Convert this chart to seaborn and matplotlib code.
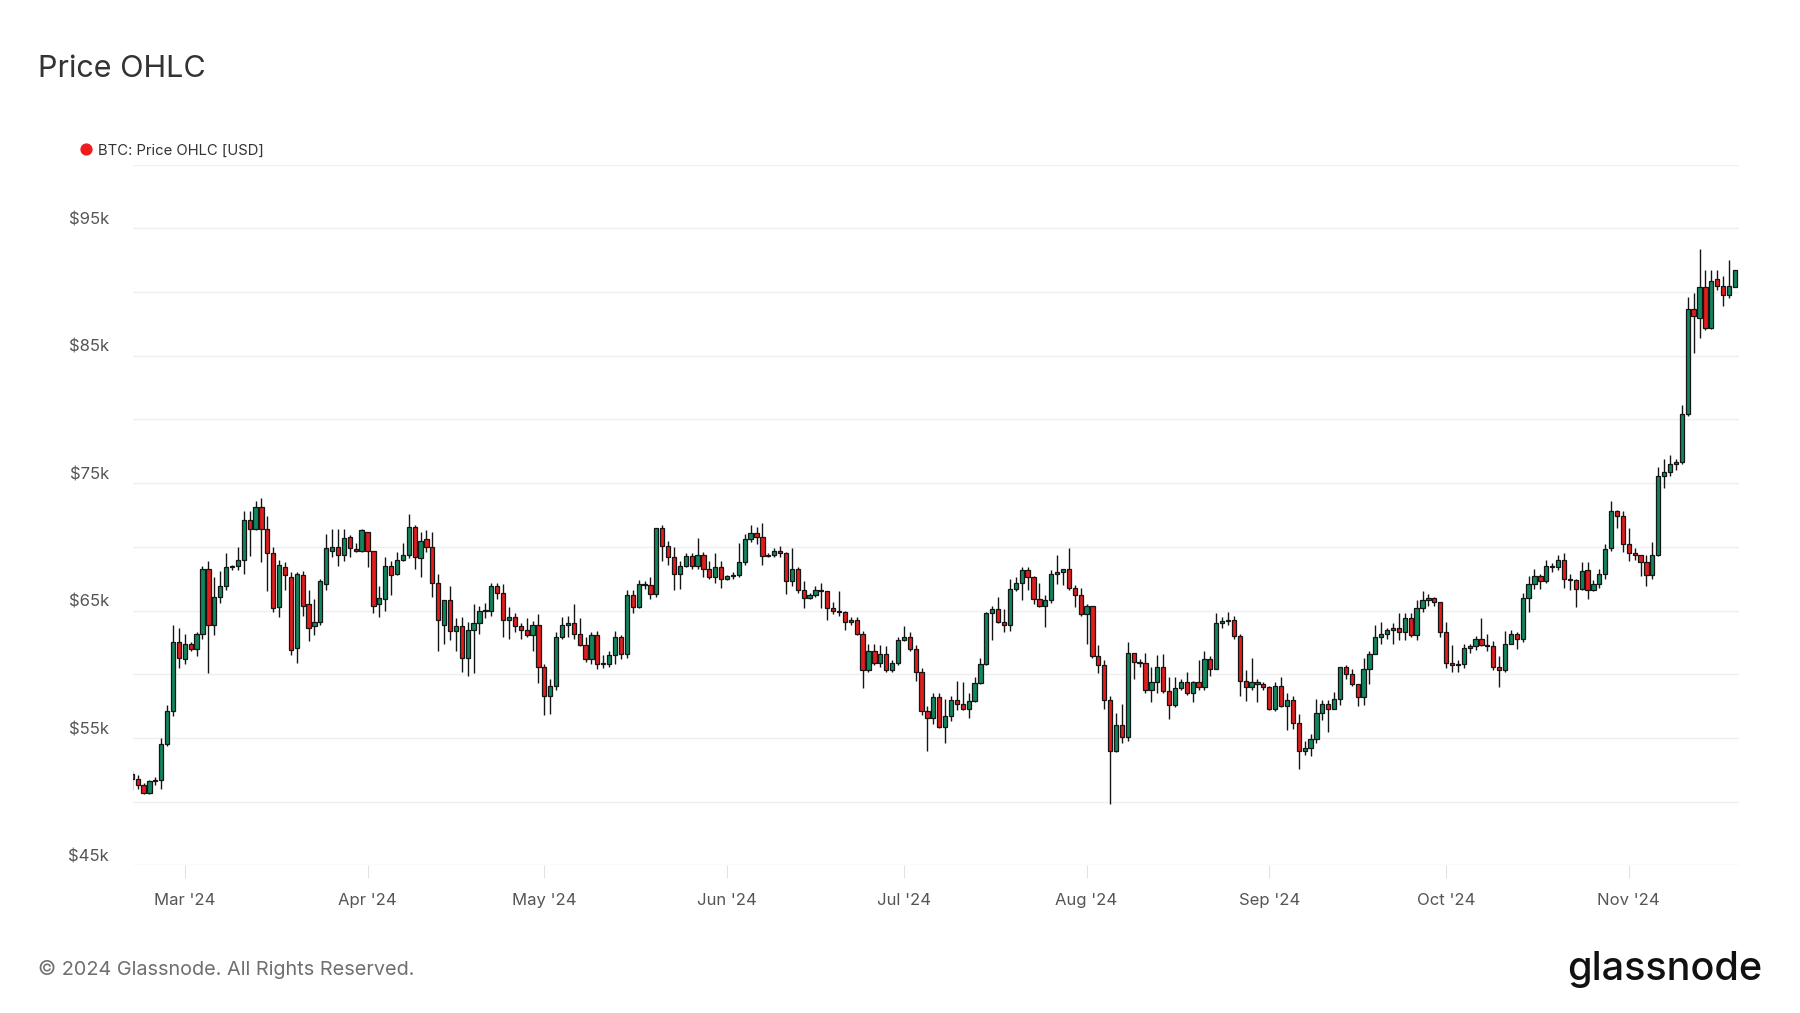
import numpy as np
import pandas as pd
import matplotlib
matplotlib.use("Agg")
import matplotlib.pyplot as plt
import matplotlib.dates as mdates
import matplotlib.transforms as mtransforms
import matplotlib.lines as mlines
import seaborn as sns

# ---------------- data (USD thousands, daily candles) ----------------
dates = pd.date_range("2024-02-21", "2024-11-19", freq="D")

open_k = [
    # Feb 21-29
    52.2, 51.8, 51.3, 50.7, 51.6, 51.7, 54.5, 57.1, 62.5,
    # Mar
    61.2, 62.4, 62.0, 63.2, 68.3, 63.9, 66.1, 66.9, 68.4, 68.5, 69.0, 72.1, 71.4, 73.1, 71.4, 69.5,
    65.3, 68.4, 67.6, 62.1, 67.8, 65.5, 63.8, 64.1, 67.1, 69.7, 70.0, 69.4, 70.8, 69.8, 69.7,
    # Apr
    71.2, 69.7, 65.5, 65.9, 68.5, 67.9, 69.0, 69.4, 71.6, 69.1, 70.6, 70.0, 67.2, 63.9, 65.8,
    63.4, 63.8, 61.3, 63.5, 64.0, 65.0, 65.0, 66.9, 66.4, 64.3, 64.5, 63.8, 63.5, 63.1, 63.9,
    # May
    60.6, 58.3, 59.1, 62.9, 63.9, 64.0, 63.2, 62.3, 61.2, 63.1, 60.8, 60.8, 61.5, 62.9, 61.6, 66.2,
    65.3, 67.1, 67.0, 66.3, 71.5, 70.1, 69.2, 67.9, 68.5, 69.3, 68.5, 69.4, 68.3, 67.6, 68.4,
    # Jun
    67.5, 67.7, 67.8, 68.8, 70.6, 71.1, 70.8, 69.3, 69.4, 69.7, 69.5, 67.3, 68.3, 66.6, 66.0,
    66.2, 66.6, 66.5, 65.2, 65.0, 64.9, 64.1, 64.3, 63.2, 60.3, 61.8, 60.9, 61.6, 60.3, 60.9,
    # Jul
    62.7, 62.9, 62.0, 60.2, 57.1, 56.6, 58.2, 55.9, 56.7, 58.0, 57.7, 57.3, 57.9, 59.3, 60.8, 64.8,
    65.1, 64.1, 63.9, 66.7, 67.2, 68.2, 67.6, 65.9, 65.4, 65.8, 67.9, 68.0, 68.3, 66.8, 66.2,
    # Aug
    64.7, 65.4, 61.4, 60.7, 58.0, 54.0, 56.0, 55.1, 61.7, 61.0, 60.9, 58.8, 59.4, 60.6, 58.7, 57.6,
    58.9, 59.4, 58.5, 59.4, 59.0, 61.2, 60.4, 64.0, 64.2, 64.3, 63.0, 59.5, 59.0, 59.4, 59.2,
    # Sep
    59.0, 57.3, 59.1, 57.5, 58.0, 56.2, 54.0, 54.2, 54.9, 57.0, 57.7, 57.3, 58.1, 60.6, 60.0,
    59.2, 58.2, 60.4, 61.6, 62.9, 63.2, 63.5, 63.6, 63.3, 64.4, 63.1, 65.2, 65.8, 66.0, 65.7,
    # Oct
    63.3, 60.9, 60.7, 60.8, 62.1, 62.2, 62.8, 62.3, 62.2, 60.6, 60.3, 62.4, 63.2, 62.8, 66.0, 67.1,
    67.7, 67.3, 68.5, 68.4, 69.0, 67.5, 67.4, 66.7, 68.2, 66.6, 67.1, 67.9, 69.9, 72.8, 72.4,
    # Nov 1-19
    70.2, 69.5, 69.4, 68.8, 67.8, 69.4, 75.6, 75.9, 76.5, 76.7, 80.4, 88.7, 88.0, 90.4, 87.2,
    91.0, 90.5, 89.8, 90.4,
]

high_k = [
    52.4, 52.1, 51.5, 51.7, 51.9, 55.0, 57.6, 63.9, 63.6,
    63.2, 62.5, 63.3, 68.5, 68.9, 67.6, 68.1, 69.5, 68.6, 70.0, 72.8, 72.8, 73.6, 73.8, 72.4, 70.0,
    69.0, 68.8, 68.0, 68.0, 68.1, 66.6, 65.9, 67.5, 71.0, 71.4, 71.4, 71.4, 70.9, 70.3, 71.4,
    71.2, 69.7, 66.9, 69.2, 68.9, 69.6, 70.3, 72.6, 71.7, 71.2, 71.3, 71.2, 67.9, 65.8, 66.9,
    64.4, 64.5, 64.1, 65.5, 65.4, 65.6, 67.2, 67.2, 67.1, 65.3, 64.8, 64.0, 64.4, 64.2, 64.7,
    60.8, 59.6, 63.3, 64.5, 64.6, 65.5, 64.4, 62.9, 63.3, 63.4, 61.5, 61.8, 63.4, 63.1, 66.6, 66.6,
    67.4, 67.3, 67.6, 71.5, 71.7, 70.5, 70.0, 68.9, 69.5, 69.5, 70.7, 69.6, 68.9, 69.5, 68.9,
    67.8, 68.0, 70.3, 71.0, 71.7, 71.6, 71.9, 69.5, 69.9, 70.1, 69.6, 69.9, 68.4, 67.3, 66.4,
    66.9, 67.2, 66.5, 65.7, 66.5, 65.0, 64.5, 64.5, 63.4, 62.4, 62.4, 62.3, 62.2, 61.1, 62.9,
    63.8, 63.3, 62.3, 60.5, 57.5, 58.5, 58.5, 58.1, 58.3, 59.5, 59.4, 58.5, 59.8, 61.3, 64.9, 65.4,
    66.1, 65.1, 67.5, 67.6, 68.4, 68.4, 67.7, 67.2, 66.2, 68.2, 69.4, 68.3, 69.9, 67.0, 66.8,
    65.5, 65.4, 62.3, 61.1, 58.3, 57.0, 57.7, 62.5, 61.7, 61.2, 61.7, 60.6, 61.5, 61.6, 59.8, 59.8,
    59.6, 60.2, 59.5, 61.1, 61.8, 61.4, 64.8, 64.5, 64.9, 64.6, 63.2, 60.3, 61.3, 59.6, 59.4,
    59.1, 59.4, 59.8, 58.5, 58.3, 56.9, 54.8, 55.3, 58.1, 58.0, 58.0, 58.6, 60.6, 60.7, 60.4,
    59.2, 61.3, 61.8, 63.9, 64.1, 63.6, 64.0, 64.8, 64.8, 64.8, 65.8, 66.5, 66.3, 66.1, 65.7,
    64.1, 62.3, 61.1, 62.4, 62.4, 63.0, 64.4, 63.2, 62.6, 61.4, 63.4, 63.5, 63.3, 66.4, 67.7, 68.3,
    67.9, 69.0, 68.7, 69.4, 69.5, 67.9, 67.5, 68.8, 68.8, 67.4, 68.3, 70.2, 73.6, 72.9, 72.8,
    71.5, 69.9, 69.4, 69.4, 70.4, 76.3, 76.9, 77.2, 76.9, 81.1, 89.6, 89.9, 93.4, 91.7, 91.7,
    91.7, 91.3, 92.5, 91.7,
]

low_k = [
    50.9, 51.0, 50.6, 50.6, 51.3, 51.0, 54.4, 56.7, 60.5,
    60.8, 61.8, 61.4, 62.8, 60.1, 63.1, 65.6, 66.6, 68.2, 68.2, 67.9, 69.3, 71.3, 68.8, 66.5, 64.9,
    64.5, 66.6, 61.5, 60.9, 64.6, 62.6, 63.1, 63.9, 66.6, 69.2, 68.5, 68.9, 69.2, 69.6, 69.6,
    68.4, 64.8, 64.5, 65.0, 66.2, 67.8, 68.9, 69.1, 68.3, 67.6, 69.6, 66.1, 61.8, 62.4, 62.7,
    61.8, 60.2, 59.9, 60.1, 63.2, 64.4, 64.6, 65.9, 62.9, 62.8, 63.3, 62.8, 62.9, 61.8, 59.3,
    56.8, 56.9, 58.8, 62.8, 62.9, 62.8, 62.2, 61.0, 60.8, 60.4, 60.5, 60.6, 60.8, 61.2, 61.3, 64.8,
    65.2, 66.7, 65.9, 66.1, 68.9, 68.6, 66.6, 66.7, 68.4, 68.3, 68.3, 67.6, 67.5, 67.2, 66.8,
    67.4, 67.5, 67.6, 68.6, 70.4, 70.2, 68.6, 69.2, 69.2, 69.2, 66.3, 66.9, 66.4, 65.2, 65.9,
    66.1, 65.2, 64.3, 64.7, 64.6, 63.5, 63.9, 63.1, 58.9, 60.2, 60.7, 60.6, 60.2, 60.2, 60.7,
    62.6, 61.8, 59.5, 56.8, 54.0, 56.1, 55.8, 54.6, 56.3, 57.2, 57.2, 56.6, 57.8, 59.2, 60.7, 62.7,
    64.0, 63.3, 63.4, 66.5, 65.8, 66.6, 65.5, 65.3, 63.7, 65.6, 67.1, 67.0, 66.6, 65.3, 64.6,
    62.4, 61.3, 60.1, 57.3, 49.8, 53.9, 54.6, 54.8, 59.6, 60.6, 58.5, 57.8, 58.5, 58.5, 56.5, 57.4,
    58.8, 58.4, 57.8, 58.8, 58.8, 59.9, 60.4, 63.6, 63.9, 62.8, 58.3, 57.9, 58.8, 57.8, 58.8,
    57.2, 57.1, 57.4, 55.6, 55.7, 52.6, 53.7, 53.6, 54.6, 56.4, 55.5, 57.3, 57.6, 59.6, 59.1,
    57.5, 57.6, 59.2, 61.6, 62.4, 62.8, 62.4, 62.7, 62.7, 62.9, 62.7, 64.9, 65.4, 65.4, 62.9,
    60.5, 60.2, 60.2, 60.5, 61.7, 61.9, 62.2, 61.8, 60.3, 59.0, 60.2, 62.4, 62.0, 62.5, 64.9, 66.7,
    66.7, 67.2, 68.0, 68.2, 66.8, 66.6, 65.3, 66.6, 65.9, 66.5, 66.8, 67.5, 69.7, 71.5, 69.6,
    68.9, 69.0, 67.7, 66.9, 67.5, 69.3, 74.6, 75.6, 76.0, 76.5, 80.3, 85.2, 86.4, 87.0, 87.1,
    90.2, 88.9, 89.5, 90.4,
]

close_k = [
    51.8, 51.3, 50.7, 51.6, 51.7, 54.5, 57.1, 62.5, 61.3,
    62.4, 62.0, 63.2, 68.3, 63.9, 66.1, 66.9, 68.4, 68.5, 69.0, 72.1, 71.4, 73.1, 71.4, 69.5, 65.2,
    68.6, 67.8, 61.9, 67.9, 65.4, 63.6, 64.1, 67.3, 69.9, 70.0, 69.4, 70.7, 69.9, 69.7, 71.3,
    69.7, 65.4, 66.0, 68.5, 67.8, 69.0, 69.4, 71.6, 69.2, 70.5, 70.0, 67.2, 64.3, 65.8, 63.4,
    63.8, 61.3, 63.5, 64.0, 65.0, 65.0, 66.9, 66.4, 64.3, 64.5, 63.8, 63.5, 63.1, 63.9, 60.6,
    58.3, 59.1, 62.9, 63.9, 64.0, 63.2, 62.3, 61.2, 63.1, 60.8, 60.8, 61.5, 62.9, 61.6, 66.2, 65.3,
    67.1, 67.0, 66.3, 71.5, 70.1, 69.2, 67.9, 68.5, 69.3, 68.5, 69.4, 68.3, 67.6, 68.4, 67.5,
    67.7, 67.8, 68.8, 70.6, 71.1, 70.8, 69.3, 69.4, 69.7, 69.5, 67.3, 68.3, 66.6, 66.0, 66.2,
    66.6, 66.5, 65.2, 65.0, 64.9, 64.1, 64.3, 63.2, 60.3, 61.8, 60.9, 61.6, 60.3, 60.9, 62.7,
    62.9, 62.0, 60.2, 57.1, 56.6, 58.2, 55.9, 56.7, 58.0, 57.7, 57.3, 57.9, 59.3, 60.8, 64.8, 65.1,
    64.1, 63.9, 66.7, 67.2, 68.2, 67.6, 65.9, 65.4, 65.8, 67.9, 68.0, 68.3, 66.8, 66.2, 64.7,
    65.4, 61.4, 60.7, 58.0, 54.0, 56.0, 55.1, 61.7, 61.0, 60.9, 58.8, 59.4, 60.6, 58.7, 57.6, 58.9,
    59.4, 58.5, 59.4, 59.0, 61.2, 60.4, 64.0, 64.2, 64.3, 63.0, 59.5, 59.0, 59.4, 59.2, 59.0,
    57.3, 59.1, 57.5, 58.0, 56.2, 54.0, 54.2, 54.9, 57.0, 57.7, 57.3, 58.1, 60.6, 60.0, 59.2,
    58.2, 60.4, 61.6, 62.9, 63.2, 63.5, 63.6, 63.3, 64.4, 63.1, 65.2, 65.8, 66.0, 65.7, 63.3,
    60.9, 60.7, 60.8, 62.1, 62.2, 62.8, 62.3, 62.2, 60.6, 60.3, 62.4, 63.2, 62.8, 66.0, 67.1, 67.7,
    67.3, 68.5, 68.4, 69.0, 67.5, 67.4, 66.7, 68.1, 66.6, 67.1, 67.9, 69.8, 72.8, 72.4, 70.2,
    69.5, 69.4, 68.8, 67.8, 69.4, 75.6, 75.9, 76.5, 76.7, 80.4, 88.7, 88.1, 90.4, 87.2, 90.9,
    90.5, 89.8, 90.5, 91.7,
]

month_ticks = ["2024-03-01", "2024-04-01", "2024-05-01", "2024-06-01", "2024-07-01",
               "2024-08-01", "2024-09-01", "2024-10-01", "2024-11-01"]
month_labels = ["Mar '24", "Apr '24", "May '24", "Jun '24", "Jul '24",
                "Aug '24", "Sep '24", "Oct '24", "Nov '24"]
grid_levels_k = [45, 50, 55, 60, 65, 70, 75, 80, 85, 90, 95, 100]
label_levels_k = [45, 55, 65, 75, 85, 95]

assert len(dates) == len(open_k) == len(high_k) == len(low_k) == len(close_k)

df = pd.DataFrame({"date": dates, "open": open_k, "high": high_k,
                   "low": low_k, "close": close_k})
df["up"] = df["close"] >= df["open"]

# ---------------- style ----------------
sns.set_theme(style="white")
plt.rcParams["font.family"] = ["Inter", "DejaVu Sans"]

W, H = 1800, 1013
fig = plt.figure(figsize=(W / 100, H / 100), dpi=100)
fig.patch.set_facecolor("white")

def fx(px):
    return px / W

def fy(py):
    return 1 - py / H

ax = fig.add_axes([fx(133), fy(865.4), fx(1739) - fx(133), fy(164.7) - fy(865.4)])
ax.set_facecolor("white")

GREEN = "#11875c"
RED = "#e11d1d"
EDGE = "#151515"

x = mdates.date2num(df["date"])
body_low = np.minimum(df["open"], df["close"])
body_h = np.maximum(np.abs(df["close"] - df["open"]), 0.07)
colors = np.where(df["up"], GREEN, RED)

for lv in grid_levels_k[1:]:
    ax.axhline(lv, color="#efefef", lw=1.0, zorder=0)
ax.axhline(45, color="#e2e2e2", lw=1.0, zorder=1)

ax.vlines(x, df["low"], df["high"], color=EDGE, lw=1.0, zorder=2)
ax.bar(x, body_h, bottom=body_low, width=0.72, color=colors,
       edgecolor=EDGE, linewidth=0.9, zorder=3)

ax.set_xlim(mdates.date2num(pd.Timestamp("2024-02-21")) + 0.21,
            mdates.date2num(pd.Timestamp("2024-11-19")) + 0.7)
ax.set_ylim(45, 100)

for s in ax.spines.values():
    s.set_visible(False)

ax.set_xticks(mdates.date2num(pd.to_datetime(month_ticks)))
ax.set_xticklabels(month_labels)
ax.tick_params(axis="x", length=9.5, width=0.8, color="#e2e2e2",
               labelcolor="#555555", labelsize=12, pad=10.5, bottom=True)
ax.set_yticks([])
ax.grid(False)

off = mtransforms.ScaledTranslation(0, 8.3 / 100, fig.dpi_scale_trans)
trans = mtransforms.blended_transform_factory(ax.transAxes, ax.transData) + off
for lv in label_levels_k:
    ax.text(-0.0149, lv, f"${lv}k", transform=trans, ha="right", va="center",
            fontsize=12, color="#555555")

# title, legend, footer
fig.text(fx(38), fy(76.7), "Price OHLC", fontsize=22, color="#333333", va="baseline")
fig.add_artist(mlines.Line2D([fx(86)], [fy(149.3)], marker="o", markersize=7.8,
                             color="#ee1c1c", linestyle="none", transform=fig.transFigure))
fig.text(fx(97.5), fy(155), "BTC: Price OHLC [USD]", fontsize=10.7, color="#333333",
         va="baseline")
fig.text(fx(38), fy(969), "\u00a9 2024 Glassnode. All Rights Reserved.", fontsize=14.3,
         color="#6f6f6f", va="center")
fig.text(fx(1762), fy(979.5), "glassnode", fontsize=28.5, color="#111111", ha="right",
         va="baseline", fontweight="medium")

fig.savefig("out.png", dpi=100, facecolor="white")
